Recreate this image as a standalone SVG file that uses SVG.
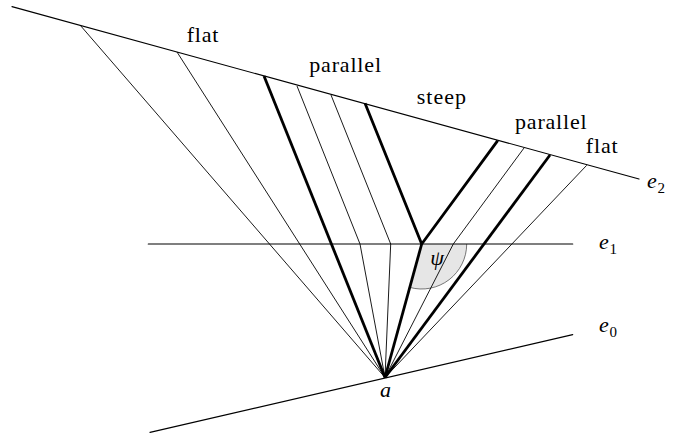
<svg xmlns="http://www.w3.org/2000/svg" width="675" height="436" viewBox="0 0 675 436" font-family="Liberation Serif, DejaVu Serif, serif">
<style>
.ax{stroke:#000;stroke-width:1.2;fill:none;stroke-linecap:round}
.th{stroke:#000;stroke-width:0.9;fill:none;stroke-linejoin:round}
.tk{stroke:#000;stroke-width:2.8;fill:none;stroke-linejoin:round}
text{font-family:'Liberation Serif','DejaVu Serif',serif;fill:#000}
.lb{font-size:22px}
.m{font-style:italic;font-size:22px}
.sub{font-size:15px}
</style>
<rect width="675" height="436" fill="#fff"/>
<g id="angle-psi">
<path d="M421.7,244 L466.7,244 A45,45 0 0 1 409.8,287.4 Z" fill="#e6e6e6" stroke="none"/>
<path d="M466.7,244 A45,45 0 0 1 409.8,287.4" fill="none" stroke="#555" stroke-width="0.8"/>
<text class="m" x="437" y="265" text-anchor="middle">ψ</text>
</g>
<g id="connectors">
<line class="th" x1="80" y1="25" x2="385" y2="377.5"/>
<line class="th" x1="177" y1="52" x2="385" y2="377.5"/>
<line class="tk" x1="264" y1="76" x2="385" y2="377.5"/>
<polyline class="th" points="297,86 360,244 385,377.5"/>
<polyline class="th" points="331,95 390.7,244 385,377.5"/>
<polyline class="tk" points="365,103.3 421.7,244 497.7,140.7"/>
<line class="tk" x1="421.7" y1="244" x2="385" y2="377.5"/>
<polyline class="th" points="524,148 453.3,244 385,377.5"/>
<line class="tk" x1="550" y1="155" x2="385" y2="377.5"/>
<line class="th" x1="586.7" y1="165.3" x2="385" y2="377.5"/>
</g>
<g id="e2">
<line class="ax" x1="12" y1="6.7" x2="639" y2="179"/>
<text class="m" x="647" y="188">e</text><text class="sub" x="657.5" y="193">2</text>
</g>
<g id="e1">
<line class="ax" x1="148.3" y1="244" x2="572.7" y2="244"/>
<text class="m" x="599" y="249">e</text><text class="sub" x="609.5" y="254">1</text>
</g>
<g id="e0">
<line class="ax" x1="150" y1="432.3" x2="572.7" y2="334.7"/>
<text class="m" x="599" y="332">e</text><text class="sub" x="609.5" y="337">0</text>
</g>
<g id="a">
<text class="m" x="385.5" y="396.5" text-anchor="middle">a</text>
</g>
<g id="labels">
<text class="lb" x="186.7" y="41.7" textLength="31.6" lengthAdjust="spacing">flat</text>
<text class="lb" x="309.3" y="72" textLength="71.7" lengthAdjust="spacing">parallel</text>
<text class="lb" x="416.7" y="104.3" textLength="49.3" lengthAdjust="spacing">steep</text>
<text class="lb" x="515" y="129.3" textLength="71.7" lengthAdjust="spacing">parallel</text>
<text class="lb" x="585.7" y="153.3" textLength="32" lengthAdjust="spacing">flat</text>
</g>
</svg>
